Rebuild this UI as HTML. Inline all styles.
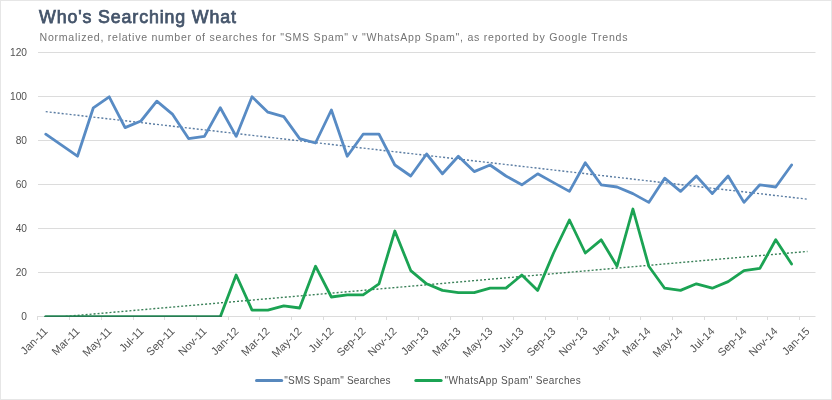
<!DOCTYPE html>
<html><head><meta charset="utf-8"><style>
html,body{margin:0;padding:0;background:#fff;}
body{width:832px;height:400px;overflow:hidden;position:relative;}
svg{position:absolute;left:0;top:0;will-change:transform;}
text{font-family:"Liberation Sans",sans-serif;}
</style></head><body>
<svg width="832" height="400" viewBox="0 0 832 400">
<rect x="0.5" y="0.5" width="831" height="399" fill="#fff" stroke="#e6e6e6" stroke-width="1"/>

<text x="39" y="22.9" font-size="17.8" font-weight="normal" fill="#44546a" stroke="#44546a" stroke-width="0.75" textLength="197" lengthAdjust="spacing">Who's Searching What</text>
<text x="39.5" y="41.3" font-size="10.6" fill="#737373" textLength="588" lengthAdjust="spacing">Normalized, relative number of searches for "SMS Spam" v "WhatsApp Spam", as reported by Google Trends</text>
<line x1="38" x2="815.5" y1="272.5" y2="272.5" stroke="#dcdcdc" stroke-width="1"/>
<text x="27" y="275.6" font-size="10.2" fill="#525252" text-anchor="end">20</text>
<line x1="38" x2="815.5" y1="228.5" y2="228.5" stroke="#dcdcdc" stroke-width="1"/>
<text x="27" y="231.6" font-size="10.2" fill="#525252" text-anchor="end">40</text>
<line x1="38" x2="815.5" y1="184.5" y2="184.5" stroke="#dcdcdc" stroke-width="1"/>
<text x="27" y="187.6" font-size="10.2" fill="#525252" text-anchor="end">60</text>
<line x1="38" x2="815.5" y1="140.5" y2="140.5" stroke="#dcdcdc" stroke-width="1"/>
<text x="27" y="143.6" font-size="10.2" fill="#525252" text-anchor="end">80</text>
<line x1="38" x2="815.5" y1="96.5" y2="96.5" stroke="#dcdcdc" stroke-width="1"/>
<text x="27" y="99.6" font-size="10.2" fill="#525252" text-anchor="end">100</text>
<line x1="38" x2="815.5" y1="52.5" y2="52.5" stroke="#dcdcdc" stroke-width="1"/>
<text x="27" y="55.6" font-size="10.2" fill="#525252" text-anchor="end">120</text>
<text x="27" y="319.6" font-size="10.2" fill="#525252" text-anchor="end">0</text>
<line x1="38" x2="815.5" y1="316.5" y2="316.5" stroke="#dcdcdc" stroke-width="1"/>
<line x1="37.5" x2="37.5" y1="316" y2="320" stroke="#dcdcdc" stroke-width="1"/>
<text x="48.3" y="332.0" font-size="11" fill="#525252" text-anchor="end" transform="rotate(-45 48.3 332.0)">Jan-11</text>
<line x1="69.5" x2="69.5" y1="316" y2="320" stroke="#dcdcdc" stroke-width="1"/>
<text x="80.3" y="332.0" font-size="11" fill="#525252" text-anchor="end" transform="rotate(-45 80.3 332.0)">Mar-11</text>
<line x1="101.5" x2="101.5" y1="316" y2="320" stroke="#dcdcdc" stroke-width="1"/>
<text x="112.3" y="332.0" font-size="11" fill="#525252" text-anchor="end" transform="rotate(-45 112.3 332.0)">May-11</text>
<line x1="133.5" x2="133.5" y1="316" y2="320" stroke="#dcdcdc" stroke-width="1"/>
<text x="144.3" y="332.0" font-size="11" fill="#525252" text-anchor="end" transform="rotate(-45 144.3 332.0)">Jul-11</text>
<line x1="164.5" x2="164.5" y1="316" y2="320" stroke="#dcdcdc" stroke-width="1"/>
<text x="175.3" y="332.0" font-size="11" fill="#525252" text-anchor="end" transform="rotate(-45 175.3 332.0)">Sep-11</text>
<line x1="196.5" x2="196.5" y1="316" y2="320" stroke="#dcdcdc" stroke-width="1"/>
<text x="207.3" y="332.0" font-size="11" fill="#525252" text-anchor="end" transform="rotate(-45 207.3 332.0)">Nov-11</text>
<line x1="228.5" x2="228.5" y1="316" y2="320" stroke="#dcdcdc" stroke-width="1"/>
<text x="239.3" y="332.0" font-size="11" fill="#525252" text-anchor="end" transform="rotate(-45 239.3 332.0)">Jan-12</text>
<line x1="259.5" x2="259.5" y1="316" y2="320" stroke="#dcdcdc" stroke-width="1"/>
<text x="270.3" y="332.0" font-size="11" fill="#525252" text-anchor="end" transform="rotate(-45 270.3 332.0)">Mar-12</text>
<line x1="291.5" x2="291.5" y1="316" y2="320" stroke="#dcdcdc" stroke-width="1"/>
<text x="302.3" y="332.0" font-size="11" fill="#525252" text-anchor="end" transform="rotate(-45 302.3 332.0)">May-12</text>
<line x1="323.5" x2="323.5" y1="316" y2="320" stroke="#dcdcdc" stroke-width="1"/>
<text x="334.3" y="332.0" font-size="11" fill="#525252" text-anchor="end" transform="rotate(-45 334.3 332.0)">Jul-12</text>
<line x1="355.5" x2="355.5" y1="316" y2="320" stroke="#dcdcdc" stroke-width="1"/>
<text x="366.3" y="332.0" font-size="11" fill="#525252" text-anchor="end" transform="rotate(-45 366.3 332.0)">Sep-12</text>
<line x1="386.5" x2="386.5" y1="316" y2="320" stroke="#dcdcdc" stroke-width="1"/>
<text x="397.3" y="332.0" font-size="11" fill="#525252" text-anchor="end" transform="rotate(-45 397.3 332.0)">Nov-12</text>
<line x1="418.5" x2="418.5" y1="316" y2="320" stroke="#dcdcdc" stroke-width="1"/>
<text x="429.3" y="332.0" font-size="11" fill="#525252" text-anchor="end" transform="rotate(-45 429.3 332.0)">Jan-13</text>
<line x1="450.5" x2="450.5" y1="316" y2="320" stroke="#dcdcdc" stroke-width="1"/>
<text x="461.3" y="332.0" font-size="11" fill="#525252" text-anchor="end" transform="rotate(-45 461.3 332.0)">Mar-13</text>
<line x1="482.5" x2="482.5" y1="316" y2="320" stroke="#dcdcdc" stroke-width="1"/>
<text x="493.3" y="332.0" font-size="11" fill="#525252" text-anchor="end" transform="rotate(-45 493.3 332.0)">May-13</text>
<line x1="513.5" x2="513.5" y1="316" y2="320" stroke="#dcdcdc" stroke-width="1"/>
<text x="524.3" y="332.0" font-size="11" fill="#525252" text-anchor="end" transform="rotate(-45 524.3 332.0)">Jul-13</text>
<line x1="545.5" x2="545.5" y1="316" y2="320" stroke="#dcdcdc" stroke-width="1"/>
<text x="556.3" y="332.0" font-size="11" fill="#525252" text-anchor="end" transform="rotate(-45 556.3 332.0)">Sep-13</text>
<line x1="577.5" x2="577.5" y1="316" y2="320" stroke="#dcdcdc" stroke-width="1"/>
<text x="588.3" y="332.0" font-size="11" fill="#525252" text-anchor="end" transform="rotate(-45 588.3 332.0)">Nov-13</text>
<line x1="609.5" x2="609.5" y1="316" y2="320" stroke="#dcdcdc" stroke-width="1"/>
<text x="620.3" y="332.0" font-size="11" fill="#525252" text-anchor="end" transform="rotate(-45 620.3 332.0)">Jan-14</text>
<line x1="640.5" x2="640.5" y1="316" y2="320" stroke="#dcdcdc" stroke-width="1"/>
<text x="651.3" y="332.0" font-size="11" fill="#525252" text-anchor="end" transform="rotate(-45 651.3 332.0)">Mar-14</text>
<line x1="672.5" x2="672.5" y1="316" y2="320" stroke="#dcdcdc" stroke-width="1"/>
<text x="683.3" y="332.0" font-size="11" fill="#525252" text-anchor="end" transform="rotate(-45 683.3 332.0)">May-14</text>
<line x1="704.5" x2="704.5" y1="316" y2="320" stroke="#dcdcdc" stroke-width="1"/>
<text x="715.3" y="332.0" font-size="11" fill="#525252" text-anchor="end" transform="rotate(-45 715.3 332.0)">Jul-14</text>
<line x1="736.5" x2="736.5" y1="316" y2="320" stroke="#dcdcdc" stroke-width="1"/>
<text x="747.3" y="332.0" font-size="11" fill="#525252" text-anchor="end" transform="rotate(-45 747.3 332.0)">Sep-14</text>
<line x1="767.5" x2="767.5" y1="316" y2="320" stroke="#dcdcdc" stroke-width="1"/>
<text x="778.3" y="332.0" font-size="11" fill="#525252" text-anchor="end" transform="rotate(-45 778.3 332.0)">Nov-14</text>
<line x1="799.5" x2="799.5" y1="316" y2="320" stroke="#dcdcdc" stroke-width="1"/>
<text x="810.3" y="332.0" font-size="11" fill="#525252" text-anchor="end" transform="rotate(-45 810.3 332.0)">Jan-15</text>
<defs><clipPath id="pa"><rect x="30" y="40" width="790" height="276.9"/></clipPath></defs><g clip-path="url(#pa)">
<line x1="45.72" y1="111.64" x2="807.48" y2="199.18" stroke="#5a7ca2" stroke-width="1.4" stroke-dasharray="2 2" stroke-dashoffset="0"/>
<line x1="45.72" y1="318.17" x2="807.48" y2="251.43" stroke="#3a8058" stroke-width="1.4" stroke-dasharray="2 2" stroke-dashoffset="0"/>
<polyline points="45.72,134.20 61.59,145.20 77.46,156.20 93.33,107.80 109.20,96.80 125.07,127.60 140.94,121.00 156.81,101.20 172.68,114.40 188.55,138.60 204.42,136.40 220.29,107.80 236.16,136.40 252.03,96.80 267.90,112.20 283.77,116.60 299.64,138.60 315.51,143.00 331.38,110.00 347.25,156.20 363.12,134.20 378.99,134.20 394.86,165.00 410.73,176.00 426.60,154.00 442.47,173.80 458.34,156.20 474.21,171.60 490.08,165.00 505.95,176.00 521.82,184.80 537.69,173.80 553.56,182.60 569.43,191.40 585.30,162.80 601.17,184.80 617.04,187.00 632.91,193.60 648.78,202.40 664.65,178.20 680.52,191.40 696.39,176.00 712.26,193.60 728.13,176.00 744.00,202.40 759.87,184.80 775.74,187.00 791.61,165.00" fill="none" stroke="#588bc4" stroke-width="2.8" stroke-linejoin="round" stroke-linecap="round"/>
<polyline points="45.72,316.80 61.59,316.80 77.46,316.80 93.33,316.80 109.20,316.80 125.07,316.80 140.94,316.80 156.81,316.80 172.68,316.80 188.55,316.80 204.42,316.80 220.29,316.80 236.16,275.00 252.03,310.20 267.90,310.20 283.77,305.80 299.64,308.00 315.51,266.20 331.38,297.00 347.25,294.80 363.12,294.80 378.99,283.80 394.86,231.00 410.73,270.60 426.60,283.80 442.47,290.40 458.34,292.60 474.21,292.60 490.08,288.20 505.95,288.20 521.82,275.00 537.69,290.40 553.56,253.00 569.43,220.00 585.30,253.00 601.17,239.80 617.04,266.20 632.91,209.00 648.78,266.20 664.65,288.20 680.52,290.40 696.39,283.80 712.26,288.20 728.13,281.60 744.00,270.60 759.87,268.40 775.74,239.80 791.61,264.00" fill="none" stroke="#1ba353" stroke-width="2.8" stroke-linejoin="round" stroke-linecap="round"/>
<line x1="45.72" x2="220.29" y1="316.80" y2="316.80" stroke="#267a52" stroke-width="2.8" stroke-linecap="round"/>
</g>
<line x1="256.5" x2="281.7" y1="380.5" y2="380.5" stroke="#5788bd" stroke-width="3" stroke-linecap="round"/>
<text x="284.3" y="384.1" font-size="10" fill="#525252" textLength="106.3" lengthAdjust="spacing">"SMS Spam" Searches</text>
<line x1="415.8" x2="441.1" y1="380.5" y2="380.5" stroke="#1ba353" stroke-width="3" stroke-linecap="round"/>
<text x="444.5" y="384.1" font-size="10" fill="#525252" textLength="136.3" lengthAdjust="spacing">"WhatsApp Spam" Searches</text>
</svg></body></html>
